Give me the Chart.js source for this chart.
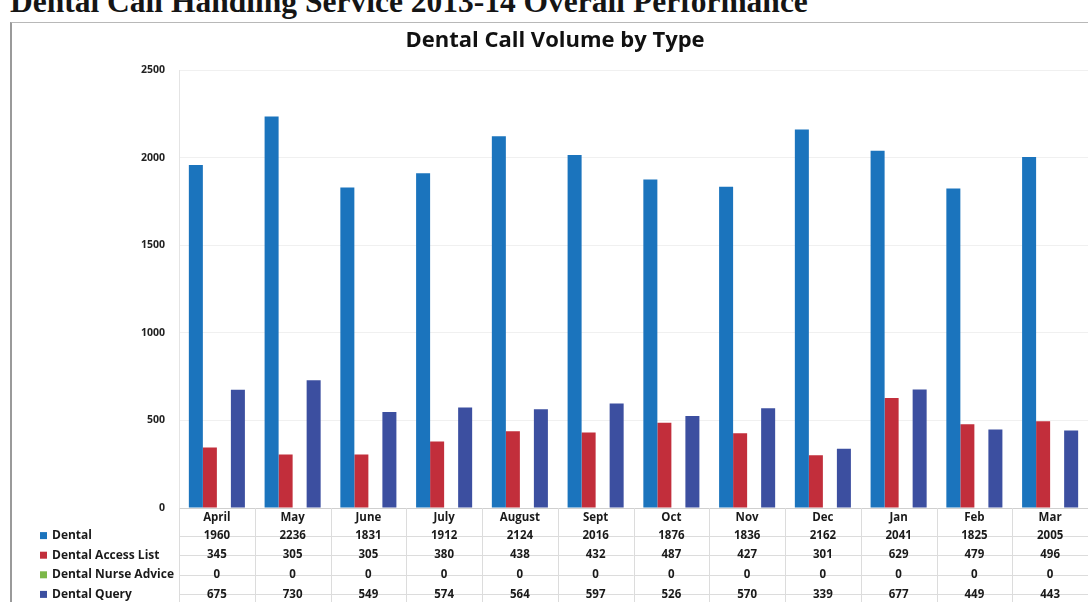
<!DOCTYPE html>
<html>
<head>
<meta charset="utf-8">
<script src="https://cdn.jsdelivr.net/npm/chart.js@4.4.1/dist/chart.umd.min.js"></script>
<style>
    body { margin: 0; background: #fff; width: 1088px; height: 602px; overflow: hidden; position: relative; }
    #heading { position: absolute; left: 10px; top: -13px; font: bold 31.5px "Liberation Serif", serif; line-height: 30px; color: #151515; white-space: nowrap; }
    #frame { position: absolute; left: 10px; top: 22px; width: 1100px; height: 600px; border-top: 1px solid #b8b8b8; border-left: 2px solid #9a9a9a; }
    #wrap { position: absolute; left: 0; top: 0; width: 1088px; height: 602px; }
</style>
</head>
<body>
<div id="heading">Dental Call Handling Service 2013-14 Overall Performance</div>
<div id="frame"></div>
<div id="wrap"><canvas id="chart" width="1088" height="602"></canvas></div>
<script>
// chart data
const months = ["April", "May", "June", "July", "August", "Sept", "Oct", "Nov", "Dec", "Jan", "Feb", "Mar"];
const dental = [1960, 2236, 1831, 1912, 2124, 2016, 1876, 1836, 2162, 2041, 1825, 2005];
const accessList = [345, 305, 305, 380, 438, 432, 487, 427, 301, 629, 479, 496];
const nurseAdvice = [0, 0, 0, 0, 0, 0, 0, 0, 0, 0, 0, 0];
const query = [675, 730, 549, 574, 564, 597, 526, 570, 339, 677, 449, 443];
const yTicks = [0, 500, 1000, 1500, 2000, 2500];

const seriesNames = ["Dental", "Dental Access List", "Dental Nurse Advice", "Dental Query"];
const seriesColors = ["#1b74bd", "#c22e3b", "#7cb849", "#3c4fa0"];
const seriesData = [dental, accessList, nurseAdvice, query];

// draws the data table under the plot, lined up with the x scale
const dataTable = {
    id: "dataTable",
    afterDraw(chart) {
        const ctx = chart.ctx;
        const x = chart.scales.x;
        const top = chart.chartArea.bottom;
        const rowH = 19.6;
        const step = x.getPixelForValue(1) - x.getPixelForValue(0);
        const left = x.getPixelForValue(0) - step / 2;
        ctx.save();
        // grid lines
        ctx.strokeStyle = "#dcdcdc";
        ctx.lineWidth = 1;
        for (let i = 0; i <= months.length; i++) {
            const px = Math.round(left + i * step) + 0.5;
            ctx.beginPath();
            ctx.moveTo(px, top);
            ctx.lineTo(px, 602);
            ctx.stroke();
        }
        for (let r = 1; r <= 4; r++) {
            const py = Math.round(top + 8 + r * rowH) + 0.5;
            ctx.beginPath();
            ctx.moveTo(left, py);
            ctx.lineTo(chart.chartArea.right, py);
            ctx.stroke();
        }
        ctx.textAlign = "center";
        ctx.textBaseline = "middle";
        ctx.fillStyle = "#1a1a1a";
        ctx.font = "bold 11.5px 'Open Sans', sans-serif";
        months.forEach((m, i) => {
            ctx.fillText(m, x.getPixelForValue(i), top + 10);
        });
        seriesData.forEach((arr, r) => {
            const cy = top + 8 + (r + 1) * rowH;
            arr.forEach((v, i) => {
                ctx.fillText(String(v), x.getPixelForValue(i), cy);
            });
        });
        // legend keys
        ctx.textAlign = "left";
        ctx.font = "bold 12px 'Open Sans', sans-serif";
        seriesNames.forEach((name, r) => {
            const cy = top + 8 + (r + 1) * rowH;
            ctx.fillStyle = seriesColors[r];
            ctx.fillRect(40, cy - 3.5, 7, 7);
            ctx.fillStyle = "#1a1a1a";
            ctx.fillText(name, 52, cy);
        });
        ctx.restore();
    }
};

const ctx = document.getElementById("chart").getContext("2d");
new Chart(ctx, {
    type: "bar",
    data: {
        labels: months,
        datasets: seriesNames.map((name, i) => ({
            label: name,
            data: seriesData[i],
            backgroundColor: seriesColors[i],
            borderWidth: 0,
            categoryPercentage: 0.74,
            barPercentage: 1.0,
        })),
    },
    options: {
        responsive: false,
        animation: false,
        layout: { padding: { left: 22, right: 0, top: 0, bottom: 94 } },
        plugins: {
            legend: { display: false },
            tooltip: { enabled: false },
            title: {
                display: true,
                text: "Dental Call Volume by Type",
                color: "#111",
                font: { family: "'Open Sans', sans-serif", size: 22, weight: "bold" },
                padding: { top: 28, bottom: 16 },
            },
        },
        scales: {
            x: {
                ticks: { display: false },
                grid: { display: false, drawTicks: false },
                border: { display: true, color: "#cfcfcf" },
                afterFit: (scale) => { scale.height = 0; },
            },
            y: {
                min: 0,
                max: 2500,
                afterBuildTicks: (scale) => { scale.ticks = yTicks.map(v => ({ value: v })); },
                ticks: {
                    padding: 14,
                    color: "#222",
                    font: { family: "'Open Sans', sans-serif", size: 10.5, weight: "bold" },
                    callback: (v) => String(v),
                },
                grid: { color: "#f0f0f0", drawTicks: false },
                border: { display: true, color: "#e4e4e4" },
                afterFit: (scale) => { scale.width = 157; },
            },
        },
    },
    plugins: [dataTable],
});
</script>
</body>
</html>
